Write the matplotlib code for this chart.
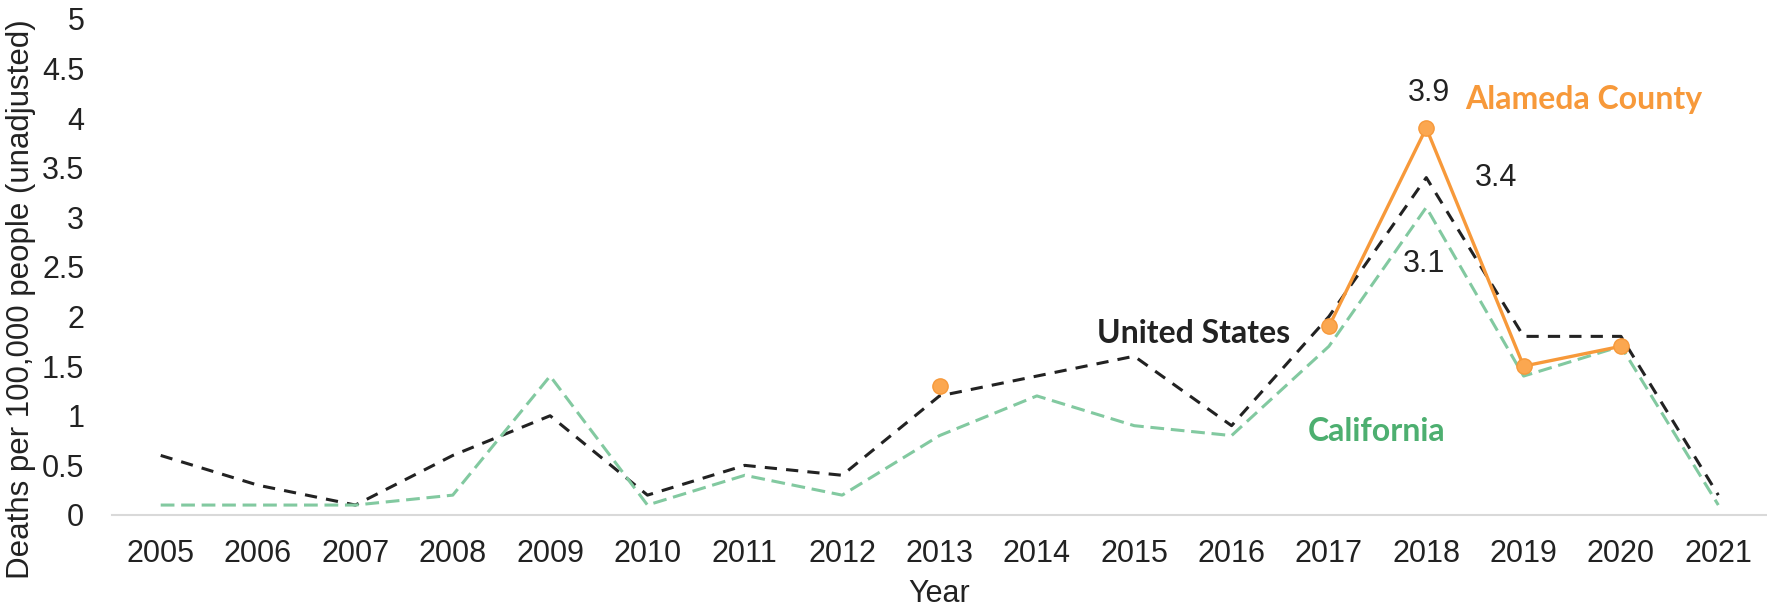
import numpy as np
import matplotlib
matplotlib.use("Agg")
import matplotlib.pyplot as plt

years = ["2005", "2006", "2007", "2008", "2009", "2010", "2011", "2012", "2013",
         "2014", "2015", "2016", "2017", "2018", "2019", "2020", "2021"]
us = [0.6, 0.3, 0.1, 0.6, 1.0, 0.2, 0.5, 0.4, 1.2, 1.4, 1.6, 0.9, 2.0, 3.4, 1.8, 1.8, 0.2]
california = [0.1, 0.1, 0.1, 0.2, 1.4, 0.1, 0.4, 0.2, 0.8, 1.2, 0.9, 0.8, 1.7, 3.1, 1.4, 1.7, 0.1]
alameda = [np.nan] * 8 + [1.3, np.nan, np.nan, np.nan, 1.9, 3.9, 1.5, 1.7, np.nan]
yticks = [0, 0.5, 1, 1.5, 2, 2.5, 3, 3.5, 4, 4.5, 5]

plt.rcParams['font.family'] = ['Liberation Sans', 'DejaVu Sans']

fig = plt.figure(figsize=(17.67, 6.08), dpi=100)
ax = fig.add_axes([0.0634, 0.153, 0.9366, 0.816])

x = np.arange(len(years))
orange = '#F7993A'
green = '#82C9A0'
ax.plot(x, us, color='#222222', lw=2.2, ls=(0, (4, 3)), zorder=2)
ax.plot(x, california, color=green, lw=2.2, ls=(0, (4.5, 2.2)), zorder=2)
ax.plot(x, alameda, color=orange, lw=2.4, marker='o', markersize=11,
        markerfacecolor='#FBA750', markeredgecolor=orange, zorder=3)

ax.set_xlim(-0.5, len(years) - 0.5)
ax.set_ylim(0, 5)
ax.set_xticks(x)
ax.set_xticklabels(years)
ax.set_yticks(yticks)
ax.set_yticklabels([f"{v:g}" for v in yticks])
for s in ['top', 'right', 'left']:
    ax.spines[s].set_visible(False)
ax.spines['bottom'].set_color('#D9D9D9')
ax.spines['bottom'].set_linewidth(1.5)
ax.tick_params(axis='both', length=0, labelsize=22, colors='#222222')
ax.tick_params(axis='x', pad=17)
ax.tick_params(axis='y', pad=20)
ax.set_xlabel("Year", fontsize=22, color='#222222')
ax.xaxis.set_label_coords(0.5, -0.13)
ax.set_ylabel("Deaths per 100,000 people (unadjusted)", fontsize=22.5, color='#222222')
ax.yaxis.set_label_coords(-0.046, 0.435)

ax.text(13.03, 4.25, "3.9", fontsize=22, color='#222222', ha='center', va='center')
ax.text(13.72, 3.40, "3.4", fontsize=22, color='#222222', ha='center', va='center')
ax.text(12.98, 2.53, "3.1", fontsize=22, color='#222222', ha='center', va='center')
ax.text(13.4, 4.19, "Alameda County", fontsize=23, fontweight='bold', color=orange,
        ha='left', va='center', family='Lato')
ax.text(10.61, 1.83, "United States", fontsize=23, fontweight='bold', color='#222222',
        ha='center', va='center', family='Lato')
ax.text(12.49, 0.84, "California", fontsize=23, fontweight='bold', color='#4DAF70',
        ha='center', va='center', family='Lato')

fig.savefig("out.png", dpi=100)
